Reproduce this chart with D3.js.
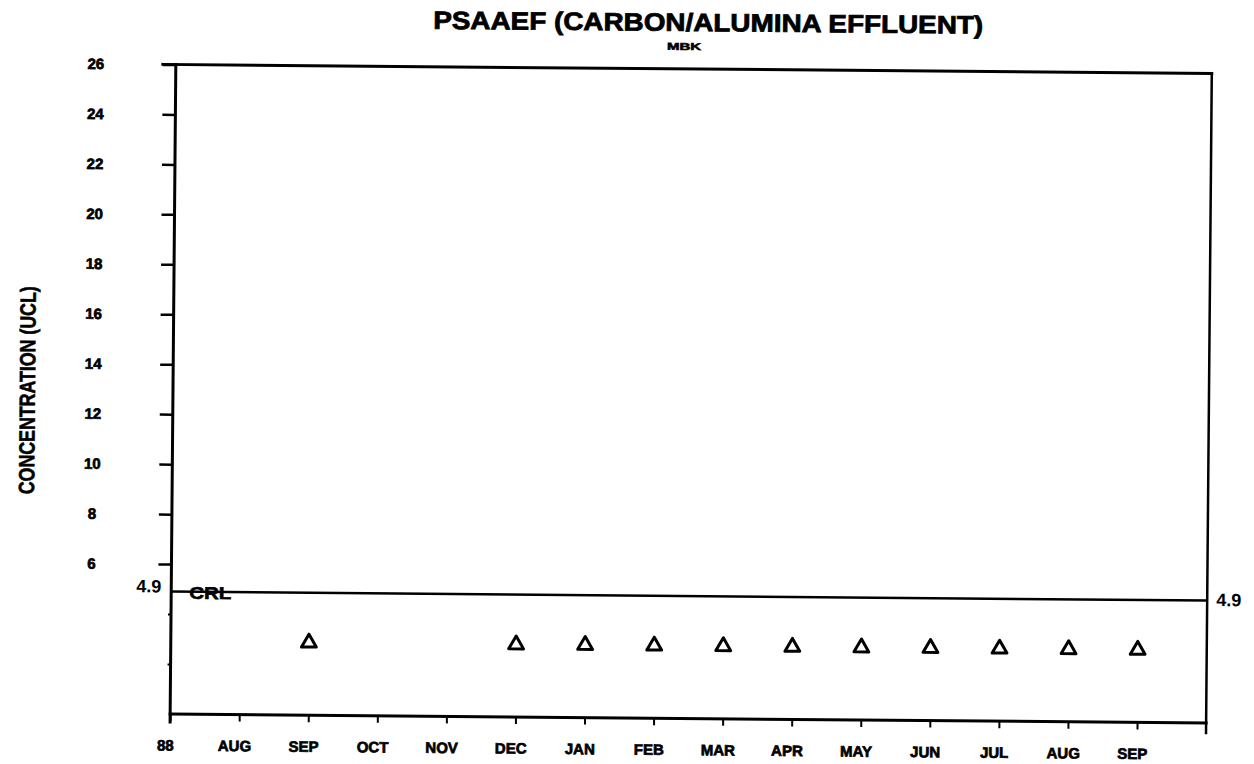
<!DOCTYPE html>
<html><head><meta charset="utf-8">
<script src="https://cdn.jsdelivr.net/npm/d3@7"></script>
<style>body{margin:0;background:#fff}</style></head>
<body>
<svg id="c" width="1254" height="764"></svg>
<script>
const monthLabels = ["88","AUG","SEP","OCT","NOV","DEC","JAN","FEB","MAR","APR","MAY","JUN","JUL","AUG","SEP"];
const sampleMonthIndex = [2,5,6,7,8,9,10,11,12,13,14];
const sampleValues = [2.9,2.9,2.9,2.9,2.9,2.9,2.9,2.9,2.9,2.9,2.9];
const yTickValues = [6,8,10,12,14,16,18,20,22,24,26];
const yMinorTicks = [2,4];
const crlValue = 4.9;
const titleText = "PSAAEF (CARBON/ALUMINA EFFLUENT)";
const subtitleText = "MBK";
const yAxisTitle = "CONCENTRATION (UCL)";
const crlLabel = "CRL";

const FONT = "'Liberation Sans',Arial,sans-serif";
const svg = d3.select("#c");
svg.append("rect").attr("width",1254).attr("height",764).attr("fill","#fff");
const root = svg.append("g").attr("transform","rotate(0.5,691,390)");

const x = d3.scaleLinear().domain([0,15]).range([173,1209]);
const y = d3.scaleLinear().domain([0,26]).range([718.5,69]);

// title
root.append("text").attr("x",705).attr("y",31).attr("text-anchor","middle")
  .attr("font-family",FONT).attr("font-weight","bold").attr("font-size",25)
  .attr("stroke","#000").attr("stroke-width",0.8)
  .attr("textLength",550).attr("lengthAdjust","spacingAndGlyphs").text(titleText);
root.append("text").attr("x",681).attr("y",50).attr("text-anchor","middle")
  .attr("font-family",FONT).attr("font-weight","bold").attr("font-size",10)
  .attr("stroke","#000").attr("stroke-width",0.6)
  .attr("textLength",34).attr("lengthAdjust","spacingAndGlyphs").text(subtitleText);

// y axis title
root.append("text").attr("transform","translate(35,396) rotate(-90)").attr("text-anchor","middle")
  .attr("font-family",FONT).attr("font-weight","bold").attr("font-size",22)
  .attr("stroke","#000").attr("stroke-width",0.6)
  .attr("textLength",208).attr("lengthAdjust","spacingAndGlyphs").text(yAxisTitle);

// y axis ticks
const yAx = root.append("g").attr("transform",`translate(${x(0)},0)`)
  .call(d3.axisLeft(y).tickValues(yTickValues).tickSize(13).tickFormat(d3.format("d")));
yAx.select(".domain").remove();
yAx.selectAll(".tick line").attr("stroke","#000").attr("stroke-width",2.5);
yAx.selectAll(".tick text").attr("x",-80).attr("text-anchor","middle")
  .attr("font-family",FONT).attr("font-weight","bold").attr("font-size",15).attr("fill","#000")
  .attr("stroke","#000").attr("stroke-width",0.7);

const yMin = root.append("g").attr("transform",`translate(${x(0)},0)`)
  .call(d3.axisLeft(y).tickValues(yMinorTicks).tickSize(3).tickFormat(""));
yMin.select(".domain").remove();
yMin.selectAll(".tick line").attr("stroke","#000").attr("stroke-width",2);

// x axis ticks
const xAx = root.append("g").attr("transform",`translate(0,${y(0)})`)
  .call(d3.axisBottom(x).tickValues(d3.range(0,monthLabels.length)).tickSize(7).tickPadding(19)
    .tickFormat(i=>monthLabels[i]));
xAx.select(".domain").remove();
xAx.selectAll(".tick line").attr("stroke","#000").attr("stroke-width",2);
xAx.selectAll(".tick text").attr("x",-5).attr("font-family",FONT).attr("font-weight","bold")
  .attr("font-size",15).attr("fill","#000").attr("stroke","#000").attr("stroke-width",0.7);

// frame
const frame = root.append("g").attr("stroke","#000").attr("fill","none").attr("stroke-linecap","square");
frame.append("line").attr("x1",x(0)-13).attr("x2",x(15)).attr("y1",y(26)).attr("y2",y(26)).attr("stroke-width",3);
frame.append("line").attr("x1",x(0)).attr("x2",x(0)).attr("y1",y(26)).attr("y2",y(0)+8).attr("stroke-width",3);
frame.append("line").attr("x1",x(15)).attr("x2",x(15)).attr("y1",y(26)).attr("y2",y(0)+10).attr("stroke-width",2.5);
frame.append("line").attr("x1",x(0)).attr("x2",x(15)).attr("y1",y(0)).attr("y2",y(0)).attr("stroke-width",3);

// CRL line
root.append("line").attr("x1",x(0)).attr("x2",x(15)).attr("y1",y(crlValue)).attr("y2",y(crlValue))
  .attr("stroke","#000").attr("stroke-width",2.5);
root.append("text").attr("x",x(0)-10).attr("y",y(crlValue)+1).attr("text-anchor","end")
  .attr("font-family",FONT).attr("font-weight","bold").attr("font-size",18)
  .text(crlValue);
root.append("text").attr("x",x(15)+9).attr("y",y(crlValue)).attr("dy","0.3em").attr("text-anchor","start")
  .attr("font-family",FONT).attr("font-weight","bold").attr("font-size",18)
  .text(crlValue);
root.append("text").attr("x",x(0)+18).attr("y",y(crlValue)).attr("dy","0.42em")
  .attr("font-family",FONT).attr("font-weight","bold").attr("font-size",17)
  .attr("stroke","#000").attr("stroke-width",0.6)
  .attr("textLength",42).attr("lengthAdjust","spacingAndGlyphs")
  .text(crlLabel);

// markers
const tri = d3.symbol().type(d3.symbolTriangle).size(95);
root.selectAll("path.pt").data(sampleMonthIndex.map((m,i)=>({m,v:sampleValues[i]})))
  .join("path").attr("class","pt")
  .attr("transform",d=>`translate(${x(d.m)},${y(d.v)})`)
  .attr("d",tri).attr("fill","#fff").attr("stroke","#000").attr("stroke-width",3).attr("stroke-linejoin","round");
</script>
</body></html>
